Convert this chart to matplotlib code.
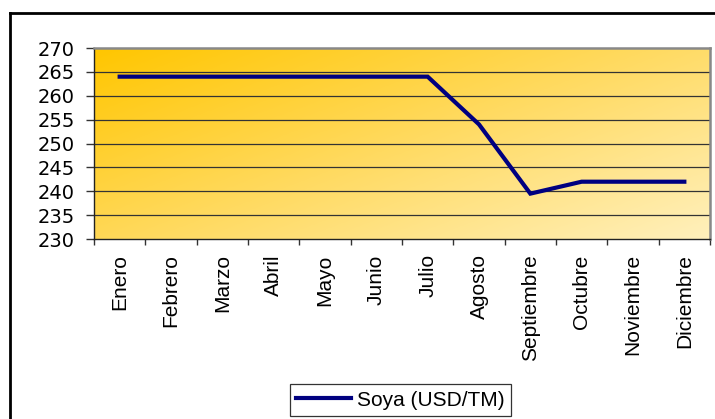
import matplotlib
matplotlib.use("Agg")
import matplotlib.pyplot as plt
import numpy as np
from matplotlib.lines import Line2D
from matplotlib.colors import LinearSegmentedColormap

months = ["Enero", "Febrero", "Marzo", "Abril", "Mayo", "Junio", "Julio",
          "Agosto", "Septiembre", "Octubre", "Noviembre", "Diciembre"]
soya = [264, 264, 264, 264, 264, 264, 264, 254, 239.5, 242, 242, 242]
yticks = [230, 235, 240, 245, 250, 255, 260, 265, 270]
series_name = "Soya (USD/TM)"

plt.rcParams['font.family'] = ['Liberation Sans', 'DejaVu Sans']

W, H = 715, 419
fig = plt.figure(figsize=(W / 100, H / 100), dpi=100)
fig.patch.set_facecolor("white")

# plot area in pixels
L, R, T, B = 94, 710, 48, 239
ax = fig.add_axes([L / W, 1 - B / H, (R - L) / W, (B - T) / H])

n = len(months)
x = np.arange(n)
ax.set_xlim(-0.5, n - 0.5)
ax.set_ylim(230, 270)

# diagonal gradient background: gold top-left -> pale bottom-right
gx, gy = np.meshgrid(np.linspace(0, 1, 300), np.linspace(0, 1, 200))
g = (gx * 0.55 + gy * 0.45)
cmap = LinearSegmentedColormap.from_list("g", ["#FFC600", "#FFDA60", "#FFF0BC"])
ax.imshow(g, extent=(-0.5, n - 0.5, 230, 270), origin="upper", aspect="auto",
          cmap=cmap, zorder=0, interpolation="bilinear")

for yv in yticks[1:-1]:
    ax.axhline(yv, color="#333333", lw=0.9, zorder=1)

ax.plot(x, soya, color="#000080", lw=3.0, zorder=3, label=series_name,
        solid_joinstyle="miter")

ax.set_yticks(yticks)
ax.set_yticklabels([str(v) for v in yticks], fontsize=14, family="DejaVu Sans")
ax.set_xticks(np.arange(-0.5, n, 1.0))
ax.set_xticklabels([])
ax.set_xticks(x, minor=True)
ax.set_xticklabels(months, minor=True, rotation=90, fontsize=15)
ax.tick_params(axis="x", which="minor", length=0, pad=11)
ax.tick_params(axis="x", which="major", length=4.5, width=1, color="#333333",
               direction="out")
ax.tick_params(axis="y", length=6, width=1, color="#333333", direction="out", pad=8)

for s in ["top", "right"]:
    ax.spines[s].set_color("#888888")
    ax.spines[s].set_linewidth(1.8)
for s in ["left", "bottom"]:
    ax.spines[s].set_color("#222222")
    ax.spines[s].set_linewidth(1.0)

leg = ax.legend(loc="center", bbox_to_anchor=((400.5 - L) / (R - L), (B - 400) / (B - T)),
                frameon=True, fancybox=False, fontsize=15, handlelength=2.6,
                borderpad=0.3, handletextpad=0.3, borderaxespad=0)
leg.get_frame().set_edgecolor("black")
leg.get_frame().set_linewidth(0.9)
leg.get_lines()[0].set_linewidth(3.0)

# outer chart border (left and top visible)
fig.add_artist(Line2D([10 / W, 10 / W], [0, 1 - 13 / H], color="black", lw=2,
                      transform=fig.transFigure))
fig.add_artist(Line2D([10 / W, 1], [1 - 13 / H, 1 - 13 / H], color="black", lw=2,
                      transform=fig.transFigure))

fig.savefig("out.png", dpi=100)
